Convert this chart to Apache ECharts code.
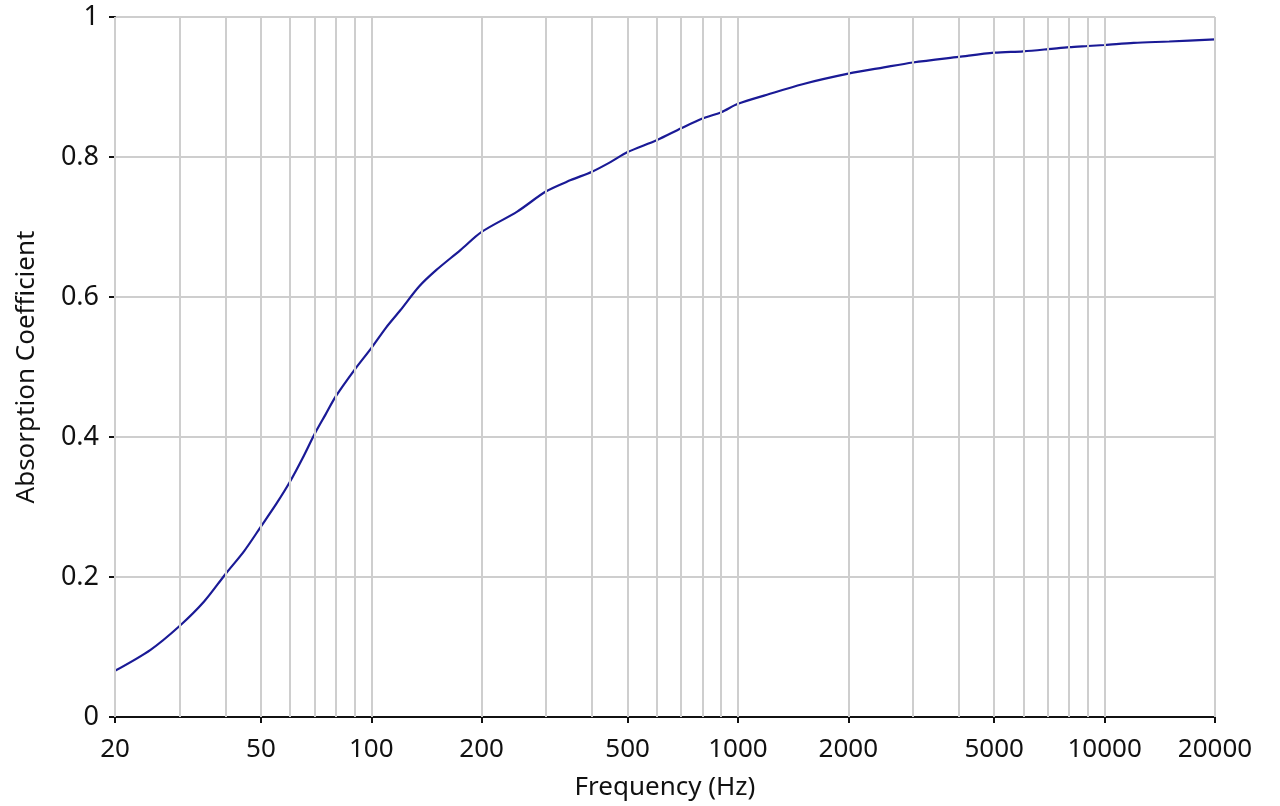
<!DOCTYPE html>
<html>
<head>
<meta charset="utf-8">
<script src="https://cdn.jsdelivr.net/npm/echarts@6/dist/echarts.min.js"></script>
<style>
html,body{margin:0;padding:0;background:#fff;}
#chart{width:1280px;height:806px;}
</style>
</head>
<body>
<div id="chart"></div>
<script>
// frequency points (Hz) and absorption
const freqs = [20, 25, 30, 35, 40, 45, 50, 55, 60, 65, 70, 75, 80, 90, 100, 110, 120, 135, 150, 175, 200, 250, 300, 350, 400, 450, 500, 600, 700, 800, 900, 1000, 1200, 1500, 2000, 2500, 3000, 4000, 5000, 6000, 7000, 8000, 9000, 10000, 12000, 15000, 20000];
const absorption = [0.066, 0.096, 0.130, 0.165, 0.204, 0.237, 0.272, 0.304, 0.336, 0.370, 0.404, 0.432, 0.458, 0.496, 0.527, 0.557, 0.581, 0.615, 0.638, 0.667, 0.693, 0.722, 0.751, 0.767, 0.779, 0.793, 0.807, 0.824, 0.841, 0.855, 0.864, 0.876, 0.889, 0.904, 0.919, 0.928, 0.935, 0.943, 0.949, 0.951, 0.954, 0.957, 0.9586, 0.960, 0.963, 0.965, 0.968];
const xLabels = [20, 50, 100, 200, 500, 1000, 2000, 5000, 10000, 20000];
const xGridLines = [20, 30, 40, 50, 60, 70, 80, 90, 100, 200, 300, 400, 500, 600, 700, 800, 900, 1000, 2000, 3000, 4000, 5000, 6000, 7000, 8000, 9000, 10000, 20000];

const FONT = 'Noto Sans';
const TEXT = '#111111';
const GRID_COLOR = '#cecece';
const chart = echarts.init(document.getElementById('chart'));

chart.setOption({
    backgroundColor: '#ffffff',
    animation: false,
    grid: {left: 115, right: 65, top: 17, bottom: 89, outerBoundsMode: 'none', containLabel: false},
    xAxis: {
        type: 'log', logBase: 10, min: 20, max: 20000,
        name: 'Frequency (Hz)', nameLocation: 'middle', nameGap: 58,
        nameTextStyle: {fontFamily: FONT, fontSize: 26, color: TEXT},
        axisLine: {lineStyle: {color: '#111', width: 2}},
        axisTick: {show: true, length: 6, lineStyle: {color: '#111', width: 2}, customValues: xLabels},
        axisLabel: {fontFamily: FONT, fontSize: 26, color: TEXT, margin: 20, customValues: xLabels,
            formatter: v => String(Math.round(v))},
        splitLine: {show: false},
        minorTick: {show: false}
    },
    yAxis: {
        type: 'value', min: 0, max: 1, interval: 0.2,
        name: 'Absorption Coefficient', nameLocation: 'middle', nameGap: 75,
        nameTextStyle: {fontFamily: FONT, fontSize: 26, color: TEXT},
        axisLine: {show: true, lineStyle: {color: '#111', width: 2}},
        axisTick: {show: true, length: 6, lineStyle: {color: '#111', width: 2}},
        axisLabel: {fontFamily: FONT, fontSize: 27, color: TEXT, margin: 16},
        splitLine: {show: true, lineStyle: {color: GRID_COLOR, width: 2}}
    },
    series: [{
        type: 'line',
        data: freqs.map((f, i) => [f, absorption[i]]),
        showSymbol: false,
        smooth: 0.3,
        lineStyle: {color: '#1a1a96', width: 2.2},
        z: 3,
        markLine: {
            silent: true, symbol: 'none', label: {show: false},
            lineStyle: {color: GRID_COLOR, width: 2, type: 'solid'},
            data: xGridLines.map(v => ({xAxis: v}))
        }
    }]
});
window.addEventListener('resize', () => chart.resize());
</script>
</body>
</html>
